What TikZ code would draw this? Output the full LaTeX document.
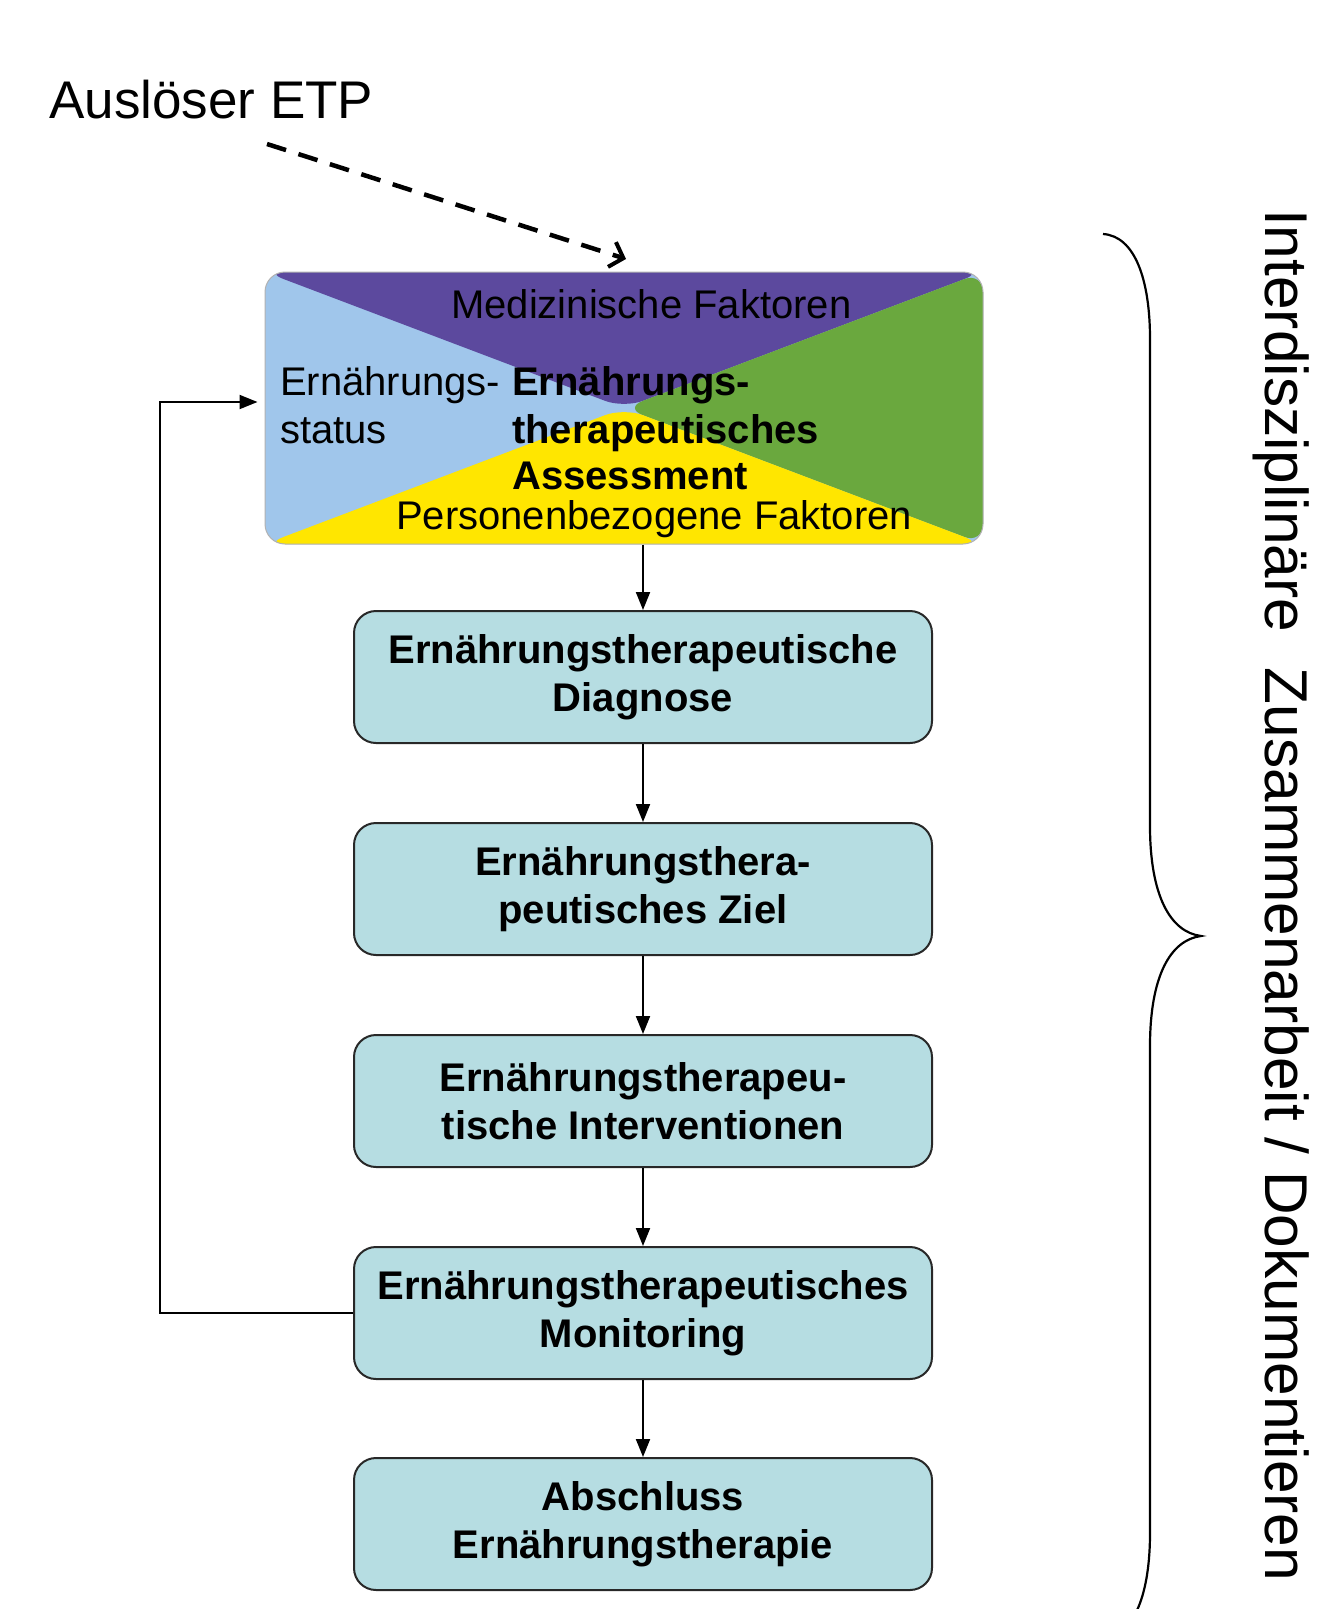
\documentclass[tikz,border=0pt]{standalone}
\usepackage{fontspec}
\setmainfont{Liberation Sans}
\usetikzlibrary{arrows.meta}
\definecolor{cpurple}{RGB}{92,73,158}
\definecolor{cblue}{RGB}{160,198,235}
\definecolor{cgreen}{RGB}{106,168,62}
\definecolor{cyellow}{RGB}{255,230,0}
\definecolor{cbox}{RGB}{182,221,226}
\definecolor{cedge}{RGB}{40,40,40}
\begin{document}
\begin{tikzpicture}[x=1pt,y=-1pt,
  flowbox/.style={draw=cedge, line width=2pt, fill=cbox, rounded corners=22pt,
    minimum width=578pt, minimum height=132pt, align=center, inner sep=0pt,
    font=\fontsize{40}{48}\selectfont\bfseries},
  arr/.style={line width=2pt, -{Triangle[length=18pt,width=14pt]}},
  lbl/.style={anchor=base west, inner sep=0pt, font=\fontsize{40}{48}\selectfont},
  blbl/.style={lbl, font=\fontsize{40}{48}\selectfont\bfseries},
]
\useasboundingbox (0,0) rectangle (1324,1609);
\fill[white] (0,0) rectangle (1324,1609);
\clip (0,0) rectangle (1324,1609);

% trigger
\node[anchor=base west, inner sep=0pt, font=\fontsize{53}{62}\selectfont] (trig) at (49,118) {Auslöser ETP};

% assessment box
\node[draw=gray!60, line width=1pt, rounded corners=20pt, minimum width=718pt,
  minimum height=272pt, inner sep=0pt,
  path picture={
    \fill[cblue] (path picture bounding box.north west) rectangle (path picture bounding box.south east);
    \fill[cpurple] (path picture bounding box.north west) -- (path picture bounding box.north east) -- (path picture bounding box.center) -- cycle;
    \fill[cgreen] (path picture bounding box.north east) -- (path picture bounding box.south east) -- (path picture bounding box.center) -- cycle;
    \fill[cyellow] (path picture bounding box.south east) -- (path picture bounding box.south west) -- (path picture bounding box.center) -- cycle;
  }] (assess) at (624,408) {};

\node[lbl] (med) at (451,318) {Medizinische Faktoren};
\node[lbl] (es1) at (280,395) {Ernährungs-};
\node[lbl] (es2) at (280,443) {status};
\node[blbl] (ea1) at (512,395) {Ernährungs-};
\node[blbl] (ea2) at (512,443) {therapeutisches};
\node[blbl] (ea3) at (512,489) {Assessment};
\node[lbl] (pers) at (396,529) {Personenbezogene Faktoren};

% flow boxes
\node[flowbox] (diag) at (643,677) {Ernährungstherapeutische\\Diagnose};
\node[flowbox] (ziel) at (643,889) {Ernährungsthera-\\peutisches Ziel};
\node[flowbox] (interv) at (643,1101) {Ernährungstherapeu-\\tische Interventionen};
\node[flowbox] (mon) at (643,1313) {Ernährungstherapeutisches\\Monitoring};
\node[flowbox] (absch) at (643,1524) {Abschluss\\Ernährungstherapie};

% connectors
\draw[arr] (diag.north |- assess.south) -- (diag.north);
\draw[arr] (diag.south) -- (ziel.north);
\draw[arr] (ziel.south) -- (interv.north);
\draw[arr] (interv.south) -- (mon.north);
\draw[arr] (mon.south) -- (absch.north);
\draw[arr, shorten >=7pt] (mon.west) -- ++(-193,0) |- ([yshift=6pt]assess.west);

% dashed trigger arrow
\coordinate (tstart) at (267,144);
\coordinate (tend) at (626,259);
\draw[line width=4.5pt, dash pattern=on 20pt off 13pt,
  -{Straight Barb[length=12pt,width=26pt,line width=4pt]}] (tstart) -- (tend);

% brace
\draw[line width=2.2pt] (1103,234) .. controls (1135,236) and (1150,280) .. (1150,339)
  -- (1150,826) .. controls (1150,895) and (1170,932) .. (1201,936)
  .. controls (1170,940) and (1150,977) .. (1150,1046)
  -- (1150,1533) .. controls (1150,1592) and (1135,1636) .. (1103,1638);

% side text
\node[rotate=-90, anchor=base west, inner sep=0pt, font=\fontsize{60.4}{72}\selectfont] (side) at (1265,209)
  {Interdisziplinäre\hspace{19pt} Zusammenarbeit / Dokumentieren};
\end{tikzpicture}
\end{document}
